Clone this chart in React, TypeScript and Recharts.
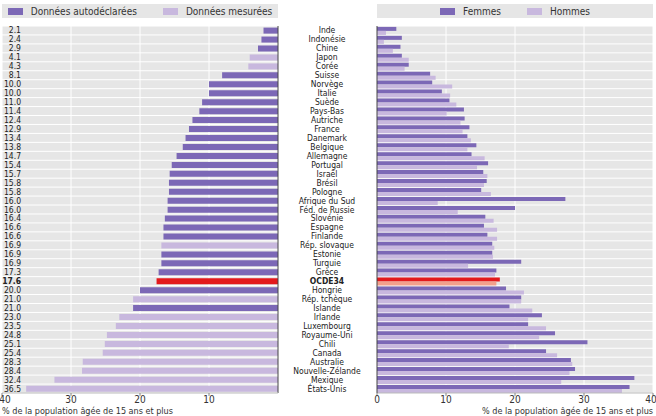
import { Bar, BarChart, CartesianGrid, Cell, Label, Legend, ReferenceLine, XAxis, YAxis } from "recharts";

const countries = [
  "Inde", "Indonésie", "Chine", "Japon", "Corée", "Suisse", "Norvège", "Italie", "Suède", "Pays-Bas",
  "Autriche", "France", "Danemark", "Belgique", "Allemagne", "Portugal", "Israël", "Brésil", "Pologne",
  "Afrique du Sud", "Féd. de Russie", "Slovénie", "Espagne", "Finlande", "Rép. slovaque", "Estonie",
  "Turquie", "Grèce", "OCDE34", "Hongrie", "Rép. tchèque", "Islande", "Irlande", "Luxembourg",
  "Royaume-Uni", "Chili", "Canada", "Australie", "Nouvelle-Zélande", "Mexique", "États-Unis"
];

const totalObesity = [
  2.1, 2.4, 2.9, 4.1, 4.3, 8.1, 10.0, 10.0, 11.0, 11.4, 12.4, 12.9, 13.4, 13.8, 14.7, 15.4, 15.7, 15.8, 15.8,
  16.0, 16.0, 16.4, 16.6, 16.6, 16.9, 16.9, 16.9, 17.3, 17.6, 20.0, 21.0, 21.0, 23.0, 23.5, 24.8, 25.1, 25.4,
  28.3, 28.4, 32.4, 36.5
];

const measuredCountries = [
  "Japon", "Corée", "Rép. slovaque", "Rép. tchèque", "Irlande", "Luxembourg", "Royaume-Uni", "Chili",
  "Canada", "Australie", "Nouvelle-Zélande", "Mexique", "États-Unis"
];

const women = [
  2.8, 3.6, 3.4, 3.6, 4.6, 7.7, 8.0, 9.4, 10.5, 12.6, 12.7, 13.4, 13.1, 14.4, 13.7, 16.1, 15.4, 15.9, 15.1,
  27.3, 20.0, 15.7, 15.5, 16.0, 16.7, 16.7, 20.9, 17.3, 17.8, 18.7, 20.9, 19.2, 23.9, 21.9, 25.8, 30.5, 24.5,
  28.1, 28.7, 37.3, 36.6
];

const men = [
  1.3, 1.0, 2.3, 4.6, 4.0, 8.5, 10.9, 10.6, 11.5, 10.1, 12.1, 12.4, 13.6, 13.1, 15.6, 14.5, 16.0, 15.5, 16.5,
  8.8, 11.7, 16.9, 17.4, 17.4, 17.0, 16.8, 13.2, 17.1, 17.3, 21.3, 20.9, 22.5, 21.9, 24.5, 23.5, 19.1, 26.1,
  28.3, 27.9, 26.7, 35.5
];

const xTicks = [0, 10, 20, 30, 40];
const OECD = "OCDE34";
const AXIS_TITLE = "% de la population âgée de 15 ans et plus";

const FONT = "'Liberation Sans Narrow', 'DejaVu Sans Condensed', 'Arial Narrow', sans-serif";
const DARK = "#7c68b6";
const LIGHT = "#c8b8de";
const RED = "#e3191c";
const SALMON = "#f2a08c";
const GRID_BG = "#e6e6e6";

const totalRows = countries.map((country, i) => {
  const measured = measuredCountries.includes(country);
  return { country, auto: measured ? null : totalObesity[i], mes: measured ? totalObesity[i] : null };
});

const genderRows = countries.map((country, i) => ({ country, femmes: women[i], hommes: men[i] }));

// white separators between the rows, like the original
const rowLines = ({ offset }: any) =>
  Array.from({ length: countries.length + 1 }, (_, i) => offset.top + (i * offset.height) / countries.length);

function ValueTick({ y, payload }: any) {
  const i = countries.indexOf(payload.value);
  return (
    <text x={21} y={y} dy={3} textAnchor="end" fontSize={8.5} fontFamily={FONT} fill="#222"
      fontWeight={payload.value === OECD ? 700 : 400}>
      {totalObesity[i].toFixed(1)}
    </text>
  );
}

function CountryTick({ y, payload }: any) {
  return (
    <text x={37} y={y} dy={3} textAnchor="middle" fontSize={8.5} fontFamily={FONT} fill="#222"
      fontWeight={payload.value === OECD ? 700 : 400}>
      {payload.value}
    </text>
  );
}

function LegendBox({ payload }: any) {
  return (
    <div style={{ height: 22 }}>
      <div style={{ height: 14, background: GRID_BG, display: "flex", alignItems: "center", justifyContent: "center", gap: 26 }}>
        {(payload || []).map((p: any) => (
          <div key={p.value} style={{ display: "flex", alignItems: "center", fontFamily: FONT, fontSize: 10, color: "#333" }}>
            <span style={{ width: 15, height: 7, background: p.color, marginRight: 8 }} />
            {p.value}
          </div>
        ))}
      </div>
    </div>
  );
}

const tickStyle = { fontSize: 10, fontFamily: FONT, fill: "#333" };
const titleStyle = { fontSize: 9, fontFamily: FONT, fill: "#333" };

export default function App() {
  return (
    <div style={{ position: "absolute", left: 0, top: 0, width: 656, height: 416, background: "#fff", overflow: "hidden" }}>
      <div style={{ position: "absolute", left: 0, top: 0 }}>
        <BarChart width={280} height={416} layout="vertical" data={totalRows}
          margin={{ top: 4, right: 2, bottom: 0, left: 2 }} barCategoryGap="18%">
          <CartesianGrid fill={GRID_BG} stroke="#fff" strokeWidth={1} horizontalCoordinatesGenerator={rowLines} />
          <XAxis type="number" domain={[0, 40]} ticks={xTicks} reversed height={23} tick={tickStyle}
            tickSize={3} tickMargin={0} axisLine={{ stroke: "#bbb" }} tickLine={{ stroke: "#888" }}>
            <Label value={AXIS_TITLE} position="insideBottomLeft" offset={2} dx={-2} style={titleStyle} />
          </XAxis>
          <YAxis type="category" dataKey="country" orientation="left" mirror interval={0}
            tick={<ValueTick />} axisLine={false} tickLine={false} />
          <Legend verticalAlign="top" content={<LegendBox />} />
          <Bar dataKey="auto" name="Données autodéclarées" stackId="t" fill={DARK} isAnimationActive={false}>
            {totalRows.map((r) => <Cell key={r.country} fill={r.country === OECD ? RED : DARK} />)}
          </Bar>
          <Bar dataKey="mes" name="Données mesurées" stackId="t" fill={LIGHT} isAnimationActive={false} />
          <ReferenceLine x={0} stroke="#444" />
        </BarChart>
      </div>

      <div style={{ position: "absolute", left: 290, top: 0 }}>
        <BarChart width={366} height={416} layout="vertical" data={genderRows}
          margin={{ top: 4, right: 3, bottom: 0, left: 0 }} barCategoryGap="10%" barGap={0}>
          <CartesianGrid fill={GRID_BG} stroke="#fff" strokeWidth={1} horizontalCoordinatesGenerator={rowLines} />
          <XAxis type="number" domain={[0, 40]} ticks={xTicks} height={23} tick={tickStyle}
            tickSize={3} tickMargin={0} axisLine={{ stroke: "#bbb" }} tickLine={{ stroke: "#888" }}>
            <Label value={AXIS_TITLE} position="insideBottomRight" offset={2} dx={2} style={titleStyle} />
          </XAxis>
          <YAxis type="category" dataKey="country" width={87} interval={0} tick={<CountryTick />}
            axisLine={{ stroke: "#444" }} tickLine={false} />
          <Legend verticalAlign="top" content={<LegendBox />} wrapperStyle={{ left: 87, width: 276 }} />
          <Bar dataKey="femmes" name="Femmes" fill={DARK} isAnimationActive={false}>
            {genderRows.map((r) => <Cell key={r.country} fill={r.country === OECD ? RED : DARK} />)}
          </Bar>
          <Bar dataKey="hommes" name="Hommes" fill={LIGHT} isAnimationActive={false}>
            {genderRows.map((r) => <Cell key={r.country} fill={r.country === OECD ? SALMON : LIGHT} />)}
          </Bar>
        </BarChart>
      </div>
    </div>
  );
}
